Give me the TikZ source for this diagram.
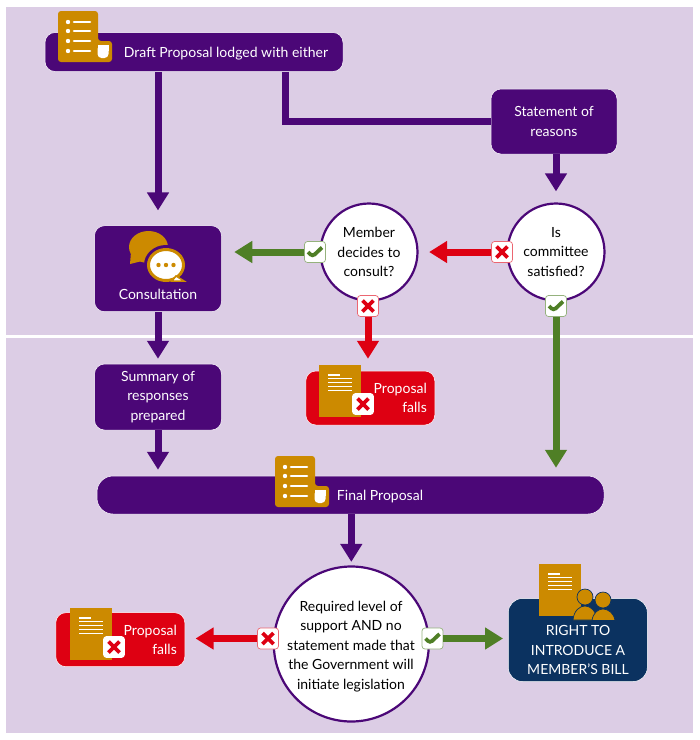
\documentclass[tikz,border=0pt]{standalone}
\usepackage{fontspec}
\setmainfont{Lato}
\usetikzlibrary{arrows.meta}

\definecolor{lilac}{HTML}{DCCDE5}
\definecolor{plum}{HTML}{4B0777}
\definecolor{gold}{HTML}{CC8A00}
\definecolor{leaf}{HTML}{4F7F26}
\definecolor{alert}{HTML}{DE0012}
\definecolor{navy}{HTML}{0B3260}

\tikzset{
    x=1pt, y=-1pt,
    bodytext/.style={font=\fontsize{14}{19.5}\selectfont, align=center},
    stagebox/.style={bodytext, fill=plum, draw=white, line width=0.5pt, text=white, rounded corners=10pt, inner sep=0pt},
    fallbox/.style={stagebox, fill=alert, minimum width=129pt, minimum height=54pt, text width=113pt, align=right},
    question/.style={bodytext, circle, fill=white, draw=plum, line width=2.2pt, inner sep=0pt, text=black},
    stagelabel/.style={bodytext, text=white, inner sep=0pt},
    badge/.style={rounded corners=3pt, fill=white, minimum width=21pt, minimum height=21pt, inner sep=0pt, line width=0.7pt},
    okbadge/.style={badge, draw=leaf!60, path picture={
        \draw[leaf, line width=3.8pt] ([shift={(-7,0)}]path picture bounding box.center)
            -- ([shift={(-2.5,4.5)}]path picture bounding box.center)
            -- ([shift={(7,-4.5)}]path picture bounding box.center);}},
    nobadge/.style={badge, draw=alert!60, path picture={
        \draw[alert, line width=3.8pt] ([shift={(-5.5,-5.5)}]path picture bounding box.center)
            -- ([shift={(5.5,5.5)}]path picture bounding box.center);
        \draw[alert, line width=3.8pt] ([shift={(5.5,-5.5)}]path picture bounding box.center)
            -- ([shift={(-5.5,5.5)}]path picture bounding box.center);}},
    flow/.style={line width=7pt, -{Triangle[length=18pt,width=21pt]}, shorten >=12pt},
    pics/listdoc/.style={code={
        \fill[gold, rounded corners=3pt] (0,0) -- (40,0) -- (40,30) -- (54,30) -- (54,51) -- (0,51) -- cycle;
        \foreach \row in {11,20,30,40} {
            \fill[white] (10,\row) circle (2.2);
            \draw[white, line width=2.6pt, line cap=round] (16,\row) -- (32,\row);
        }
        \fill[white, rounded corners=4pt] (39.5,34) -- (50.5,34) -- (50.5,47) -- (39.5,47) -- cycle;
        \fill[white] (39.5,34) rectangle (50.5,40);
    }},
    pics/textdoc/.style={code={
        \fill[gold] (0,0) rectangle (42,52);
        \draw[white, line width=1.1pt] (9,10) -- (21,10);
        \foreach \row in {13.7,17.7,21.7,25.7}
            \draw[white, line width=1.1pt] (9,\row) -- (33,\row);
    }}
}

\begin{document}
\begin{tikzpicture}
    \useasboundingbox (0,0) rectangle (700,740);
    \fill[white] (0,0) rectangle (700,740);
    \fill[lilac] (6,7) rectangle (693,733);
    \draw[white, line width=2.5pt] (6,336.5) -- (693,336.5);

    \node[stagebox, minimum width=298pt, minimum height=39pt] (draft) at (194,52) {};
    \node[stagelabel] (drafttext) at (226,53.5) {Draft Proposal lodged with either};
    \node[stagebox, minimum width=126pt, minimum height=65pt] (statement) at (554,121.5) {Statement of\\reasons};
    \node[stagebox, minimum width=127pt, minimum height=86pt] (consult) at (158,268.7) {};
    \node[stagelabel] (consulttext) at (158,294) {Consultation};
    \node[stagebox, minimum width=127pt, minimum height=66pt] (summary) at (158,397) {Summary of\\responses\\prepared};
    \node[stagebox, rounded corners=16pt, minimum width=507pt, minimum height=38pt] (final) at (350.5,495) {};
    \node[stagelabel] (finaltext) at (380,496.5) {Final Proposal};

    \node[question, minimum size=97pt] (member) at (369,252) {Member\\decides to\\consult?};
    \node[question, minimum size=97pt] (committee) at (556,252) {Is\\committee\\satisfied?};
    \node[question, minimum size=155pt] (support) at (351.3,644) {};
    \node[bodytext, inner sep=0pt] (supporttext) at (351,646.5) {Required level of\\support AND no\\statement made that\\the Government will\\initiate legislation};

    \node[fallbox] (fallsright) at (370.3,398) {Proposal\\falls};
    \node[fallbox] (fallsleft) at (120.3,639.7) {Proposal\\falls};
    \node[stagebox, fill=navy, rounded corners=14pt, minimum width=139pt, minimum height=83pt] (bill) at (577.8,640) {};
    \node[stagelabel] (billtext) at (578,650) {RIGHT TO\\INTRODUCE A\\MEMBER’S BILL};

    \node[okbadge] (memberyes) at (315,252) {};
    \node[nobadge] (memberno) at (368,306) {};
    \node[nobadge] (committeeno) at (502,252) {};
    \node[okbadge] (committeeyes) at (556,306) {};
    \node[nobadge] (supportno) at (268,638.5) {};
    \node[okbadge] (supportyes) at (432.5,638.5) {};

    \draw[flow, plum, shorten >=15pt] (draft.south -| consult.north) -- (consult.north);
    \draw[line width=7pt, plum] (draft.south -| 285,0) |- (statement.west);
    \draw[flow, plum, shorten >=11pt] (statement.south -| committee.north) -- (committee.north);
    \draw[flow, plum, shorten >=5pt] (consult) -- (summary);
    \draw[flow, plum, shorten >=6pt] (summary) -- (final.north -| summary);
    \draw[flow, plum, shorten >=3.5pt] (final.south -| support.north) -- (support.north);

    \draw[flow, leaf, shorten >=12.5pt] (memberyes) -- (consult.east |- memberyes);
    \draw[flow, alert, shorten >=10.5pt] (committeeno) -- (member);
    \draw[flow, alert] (memberno) -- (fallsright.north -| memberno);
    \draw[flow, leaf, shorten >=8pt] (committeeyes) -- (final.north -| committeeyes);
    \draw[flow, alert, shorten >=10.5pt] (supportno) -- (fallsleft.east |- supportno);
    \draw[flow, leaf, shorten >=5pt] (supportyes) -- (bill.west |- supportyes);

    \pic (draftdoc) at (58,11) {listdoc};
    \pic (finaldoc) at (275,456) {listdoc};
    \pic (fallsrightdoc) at (319,365) {textdoc};
    \pic (fallsleftdoc) at (70,608) {textdoc};
    \pic (billdoc) at (539,564) {textdoc};
    \node[nobadge, draw=white] (fallsrightmark) at (363,404) {};
    \node[nobadge, draw=white] (fallsleftmark) at (114,647) {};

    % people on the bill box
    \fill[gold, draw=navy, line width=0.7pt] (585,597) circle (8);
    \fill[gold, draw=navy, line width=0.7pt] (573,620) .. controls (574,610) and (580,606) .. (585,606) .. controls (590,606) and (596,610) .. (597,620) -- cycle;
    \fill[gold, draw=navy, line width=0.7pt] (603,600) circle (8);
    \fill[gold, draw=navy, line width=0.7pt] (592,620.5) .. controls (593,613) and (598,609) .. (603,609) .. controls (608,609) and (614,613) .. (615,620.5) -- cycle;

    % speech bubbles on the consultation box
    \fill[gold] (148.5,247) ellipse (19.5 and 16);
    \fill[gold] (131,252) -- (130,264) -- (142,261) -- cycle;
    \fill[plum] (166,265) ellipse (22 and 20);
    \fill[white, draw=gold, line width=3pt] (166,265) ellipse (17.5 and 15.5);
    \fill[white, draw=gold, line width=1.5pt] (176,276) -- (184,281) -- (172,281) -- cycle;
    \foreach \dot in {158.5,166,173.5} \fill[gold] (\dot,265) circle (2.2);
\end{tikzpicture}
\end{document}
